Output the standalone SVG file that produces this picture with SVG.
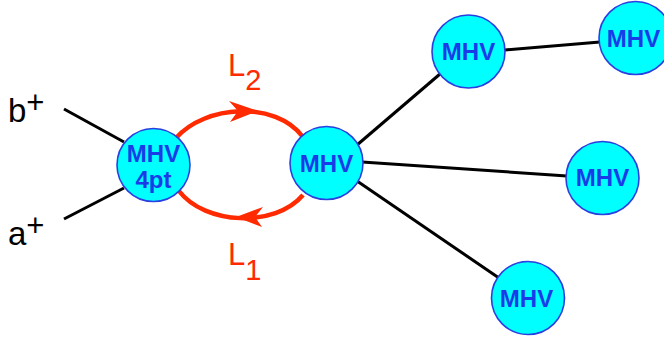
<svg xmlns="http://www.w3.org/2000/svg" width="664" height="340" viewBox="0 0 664 340">
<style>
.node circle{fill:#00ffff;stroke:#2a3fe0;stroke-width:1.6}
.node text{font-family:"Liberation Sans",Arial,sans-serif;font-weight:bold;font-size:24px;fill:#1a3ce8;text-anchor:middle}
.line{stroke:#000;stroke-width:3;fill:none}
.loop{stroke:#ff2a00;stroke-width:4.5;fill:none}
.head{fill:#ff2a00}
.lbl{font-family:"Liberation Sans",Arial,sans-serif;font-size:33px;fill:#000}
.red{font-family:"Liberation Sans",Arial,sans-serif;font-size:31px;fill:#ff2a00}
</style>
<rect width="664" height="340" fill="#fff"/>
<g id="connectors">
<line class="line" x1="64" y1="109" x2="124" y2="142"/>
<line class="line" x1="64" y1="219" x2="124" y2="188"/>
<line class="line" x1="357" y1="145" x2="440" y2="74"/>
<line class="line" x1="362" y1="162" x2="567" y2="176"/>
<line class="line" x1="357" y1="181" x2="499" y2="278"/>
<line class="line" x1="505" y1="50" x2="600" y2="42"/>
<path class="loop" d="M176,138 C205,105 275,100 303,137"/>
<path class="loop" d="M179,191 C205,225 275,228 303,195"/>
<path class="head" d="M258,111 L229,101 L238,111 L230,122 Z"/>
<path class="head" d="M236,217 L263,207 L255,217 L262,227 Z"/>
</g>
<g id="node-4pt" class="node"><circle cx="153.5" cy="165" r="36.5"/><text x="153.5" y="162">MHV</text><text x="153.5" y="188">4pt</text></g>
<g id="node-center" class="node"><circle cx="326.5" cy="163" r="36.5"/><text x="326.5" y="171.5">MHV</text></g>
<g id="node-top" class="node"><circle cx="468.5" cy="51.5" r="36.5"/><text x="468.5" y="60">MHV</text></g>
<g id="node-topright" class="node"><circle cx="635.5" cy="38" r="36.5"/><text x="633.5" y="46.5">MHV</text></g>
<g id="node-mid" class="node"><circle cx="602.5" cy="178" r="36.5"/><text x="602.5" y="186">MHV</text></g>
<g id="node-bottom" class="node"><circle cx="528" cy="298" r="36.5"/><text x="526.5" y="307">MHV</text></g>
<g id="labels">
<text class="lbl" x="8" y="122">b<tspan font-size="31" dy="-9">+</tspan></text>
<text class="lbl" x="8" y="245">a<tspan font-size="31" dy="-9">+</tspan></text>
<text class="red" x="228" y="76">L<tspan font-size="29" dy="14">2</tspan></text>
<text class="red" x="228" y="265">L<tspan font-size="29" dy="15">1</tspan></text>
</g>
</svg>
